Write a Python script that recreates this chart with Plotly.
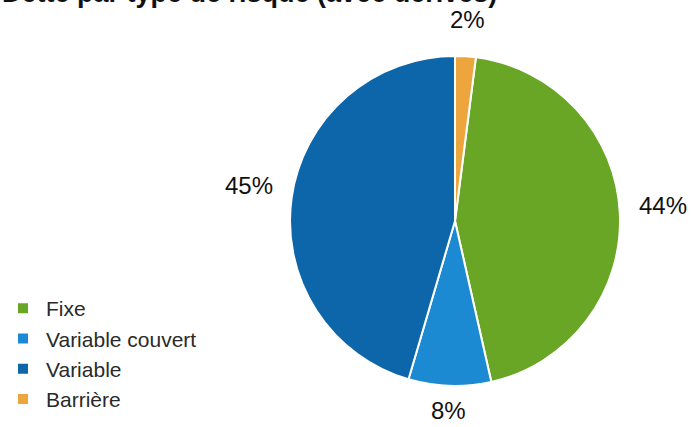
import math
import plotly.graph_objects as go

# Debt split by risk type (including derivatives)
categories = ["Fixe", "Variable couvert", "Variable", "Barrière"]
shares = [44, 8, 45, 2]
colors = ["#69a625", "#1c8ad2", "#0d66a9", "#eda53e"]
title_text = "Dette par type de risque (avec dérivés)"

W, H = 693, 427
cx, cy, r = 455, 221, 165  # pie centre and radius in px

total = sum(shares)
start = shares[-1] / total * 360  # Barrière sits at 12 o'clock

fig = go.Figure(
    go.Pie(
        labels=categories,
        values=shares,
        marker=dict(colors=colors, line=dict(color="white", width=2)),
        sort=False,
        direction="clockwise",
        rotation=start,
        textinfo="none",
        hoverinfo="label+percent",
        domain=dict(x=[(cx - r) / W, (cx + r) / W], y=[(H - cy - r) / H, (H - cy + r) / H]),
    )
)

# Percentage labels placed outside each slice at its mid-angle,
# pushed out by a gap plus half the label's extent in that direction
label_size = 24
annotations = []
acc = start
for name, v in zip(categories, shares):
    text = f"{v}%"
    span = v / total * 360
    mid = math.radians(acc + span / 2)
    acc += span
    half_w = len(text) * label_size * 0.31
    half_h = label_size * 0.42
    lr = r + 20 + half_w * abs(math.sin(mid)) + half_h * abs(math.cos(mid))
    px = cx + lr * math.sin(mid)
    py = cy - 6 - lr * math.cos(mid)
    annotations.append(
        dict(
            x=px / W, y=1 - py / H, xref="paper", yref="paper",
            text=text, showarrow=False, xanchor="center", yanchor="middle",
            font=dict(family="Liberation Sans", size=label_size, color="#111111"),
        )
    )

annotations.append(
    dict(
        x=0, y=(H + 7) / H, xref="paper", yref="paper", text=f"<b>{title_text}</b>",
        showarrow=False, xanchor="left", yanchor="middle",
        font=dict(family="Liberation Sans", size=27, color="#111111"),
    )
)

fig.update_layout(
    width=W, height=H,
    margin=dict(l=0, r=0, t=0, b=0),
    paper_bgcolor="white", plot_bgcolor="white",
    annotations=annotations,
    showlegend=True,
    legend=dict(
        x=0.0, y=(H - 288) / H, xanchor="left", yanchor="top",
        font=dict(family="Liberation Sans", size=21, color="#2a2a2a"),
        itemwidth=36, bgcolor="rgba(0,0,0,0)",
    ),
)

fig.write_html("out.html")
